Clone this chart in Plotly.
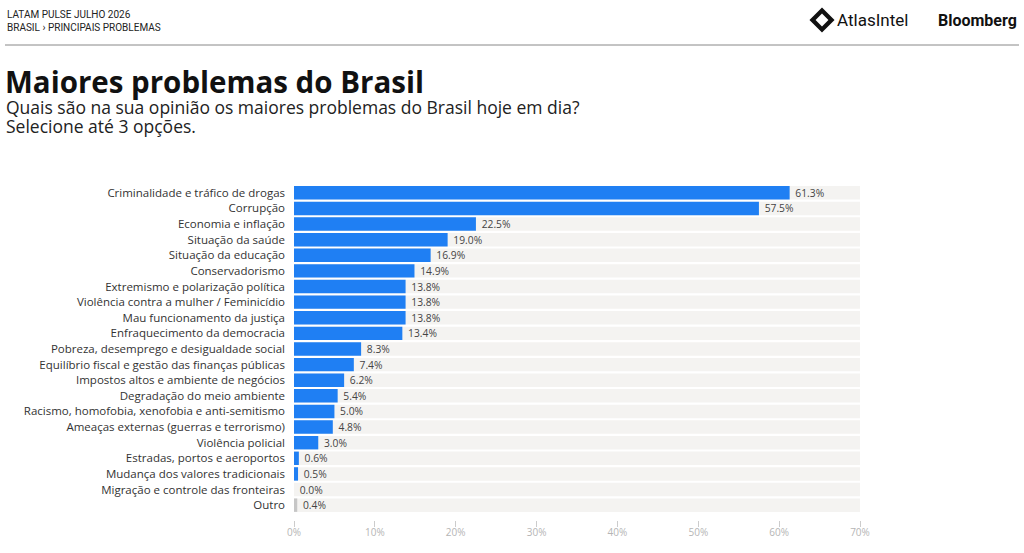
import plotly.graph_objects as go

W, H = 1024, 553

categories = [
    'Criminalidade e tráfico de drogas',
    'Corrupção',
    'Economia e inflação',
    'Situação da saúde',
    'Situação da educação',
    'Conservadorismo',
    'Extremismo e polarização política',
    'Violência contra a mulher / Feminicídio',
    'Mau funcionamento da justiça',
    'Enfraquecimento da democracia',
    'Pobreza, desemprego e desigualdade social',
    'Equilíbrio fiscal e gestão das finanças públicas',
    'Impostos altos e ambiente de negócios',
    'Degradação do meio ambiente',
    'Racismo, homofobia, xenofobia e anti-semitismo',
    'Ameaças externas (guerras e terrorismo)',
    'Violência policial',
    'Estradas, portos e aeroportos',
    'Mudança dos valores tradicionais',
    'Migração e controle das fronteiras',
    'Outro',
]
values = [61.3, 57.5, 22.5, 19.0, 16.9, 14.9, 13.8, 13.8, 13.8, 13.4,
          8.3, 7.4, 6.2, 5.4, 5.0, 4.8, 3.0, 0.6, 0.5, 0.0, 0.4]
x_ticks = [0, 10, 20, 30, 40, 50, 60, 70]
x_max = 70

BLUE = '#1f7ff3'
GREY_BAR = '#c6c6c6'
colors = [GREY_BAR if c == 'Outro' else BLUE for c in categories]

FONT = 'Open Sans'


def px(x):
    return x / W


def py(y):
    return 1 - y / H


fig = go.Figure()

# faixa de fundo até 70%
fig.add_trace(go.Bar(
    y=categories,
    x=[x_max] * len(categories),
    orientation='h',
    marker=dict(color='#f4f3f1', line=dict(width=0)),
    width=0.86,
    hoverinfo='skip',
    showlegend=False,
))

fig.add_trace(go.Bar(
    y=categories,
    x=values,
    orientation='h',
    marker=dict(color=colors, line=dict(width=0)),
    width=0.86,
    # nbsp na frente para afastar o rótulo da barra
    text=[f'\u00a0{v:.1f}%' for v in values],
    textposition='outside',
    textfont=dict(family=FONT, size=11.5, color='#444444'),
    cliponaxis=False,
    showlegend=False,
))

fig.update_layout(
    width=W,
    height=H,
    margin=dict(l=0, r=0, t=0, b=0),
    paper_bgcolor='white',
    plot_bgcolor='white',
    barmode='overlay',
    font=dict(family=FONT, color='#333333'),
    xaxis=dict(
        domain=[px(294), px(860)],
        range=[0, x_max],
        tickvals=x_ticks,
        ticktext=[f'{t}%' for t in x_ticks],
        ticks='outside',
        ticklen=6,
        tickcolor='#cccccc',
        tickfont=dict(family=FONT, size=10, color='#b5b5b5'),
        ticklabelstandoff=-3,
        showgrid=False,
        zeroline=False,
        showline=False,
        fixedrange=True,
        automargin=False,
    ),
    yaxis=dict(
        domain=[py(520), py(185)],
        categoryorder='array',
        categoryarray=categories,
        range=[len(categories) - 0.5 + 0.45, -0.5],
        tickfont=dict(family=FONT, size=11.5, color='#333333'),
        ticks='',
        ticklabelstandoff=8,
        showgrid=False,
        zeroline=False,
        showline=False,
        automargin=False,
    ),
)

# cabeçalho
fig.add_annotation(text='LATAM PULSE JULHO 2026', x=px(5), y=py(14), xref='paper', yref='paper',
                   xanchor='left', yanchor='middle', showarrow=False,
                   font=dict(family='Roboto', size=10, color='#222222'))
fig.add_annotation(text='BRASIL › PRINCIPAIS PROBLEMAS', x=px(5), y=py(27), xref='paper', yref='paper',
                   xanchor='left', yanchor='middle', showarrow=False,
                   font=dict(family='Roboto', size=10, color='#222222'))
fig.add_shape(type='line', xref='paper', yref='paper', x0=px(5), x1=px(1019), y0=py(45), y1=py(45),
              line=dict(color='#888888', width=1))

# logos
fig.add_shape(type='path', xref='paper', yref='paper',
              path=(f'M {px(822)},{py(11)} L {px(831)},{py(20)} L {px(822)},{py(29)} '
                    f'L {px(813)},{py(20)} Z'),
              fillcolor='#111111', line=dict(color='#111111', width=5))
fig.add_shape(type='path', xref='paper', yref='paper',
              path=(f'M {px(822)},{py(15)} L {px(827)},{py(20)} L {px(822)},{py(25)} '
                    f'L {px(817)},{py(20)} Z'),
              fillcolor='white', line=dict(color='white', width=2))
fig.add_annotation(text='AtlasIntel', x=px(835), y=py(20), xref='paper', yref='paper',
                   xanchor='left', yanchor='middle', showarrow=False,
                   font=dict(family='Roboto', size=17, color='#111111'))
fig.add_annotation(text='<b>Bloomberg</b>', x=px(1019), y=py(20), xref='paper', yref='paper',
                   xanchor='right', yanchor='middle', showarrow=False,
                   font=dict(family='Roboto', size=16, color='#111111'))

# título
fig.add_annotation(text='<b>Maiores problemas do Brasil</b>', x=px(3), y=py(81), xref='paper', yref='paper',
                   xanchor='left', yanchor='middle', showarrow=False,
                   font=dict(family=FONT, size=29.5, color='#111111'))
fig.add_annotation(text='Quais são na sua opinião os maiores problemas do Brasil hoje em dia?',
                   x=px(4), y=py(107), xref='paper', yref='paper',
                   xanchor='left', yanchor='middle', showarrow=False,
                   font=dict(family=FONT, size=17.5, color='#222222'))
fig.add_annotation(text='Selecione até 3 opções.',
                   x=px(4), y=py(126), xref='paper', yref='paper',
                   xanchor='left', yanchor='middle', showarrow=False,
                   font=dict(family=FONT, size=17.5, color='#222222'))

# a página do plotly deixa 8px de margem no body; tira para caber na janela
fig.write_html('out.html', config={'displayModeBar': False},
               post_script="document.body.style.margin = '0';")
